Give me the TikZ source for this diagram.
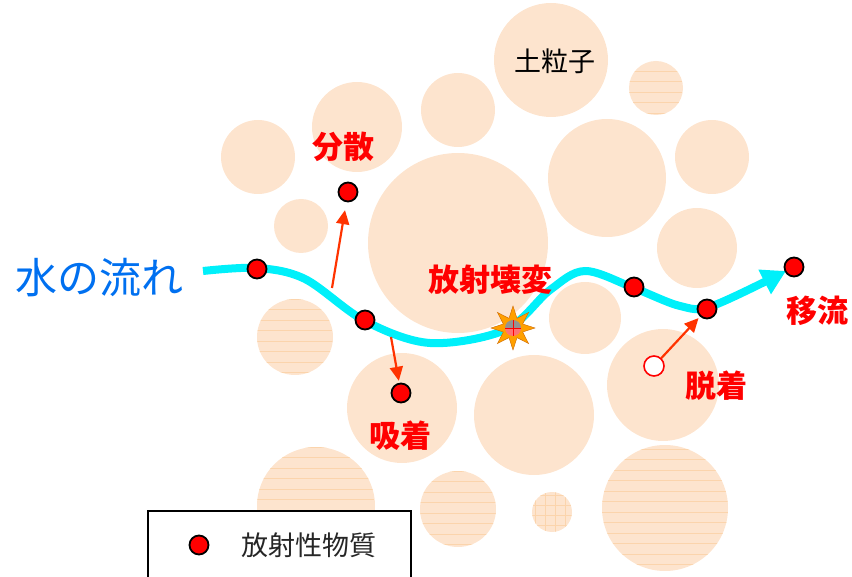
\documentclass[tikz,border=0pt]{standalone}
\usepackage{fontspec}
\usetikzlibrary{shapes.geometric,arrows.meta}
\newfontfamily\jp{Noto Sans CJK JP}
\definecolor{soilc}{RGB}{253,228,206}
\definecolor{hatchc}{RGB}{251,212,172}
\definecolor{flowc}{RGB}{0,240,250}
\definecolor{arrc}{RGB}{255,51,0}
\definecolor{bluetxt}{RGB}{0,112,240}
\definecolor{starc}{RGB}{255,160,0}
\tikzset{
  soil/.style={fill=soilc},
  hatchline/.style={draw=hatchc, line width=0.8pt},
  rdot/.style={circle, fill=red, draw=black, line width=1.8pt, minimum size=19pt, inner sep=0pt},
  odot/.style={circle, fill=white, draw=red, line width=1.6pt, minimum size=20pt, inner sep=0pt},
  rarrow/.style={draw=arrc, line width=2.2pt, -{Triangle[length=14pt,width=13pt]}},
  redlbl/.style={text=red, font=\jp\bfseries\fontsize{31}{33}\selectfont, inner sep=0pt},
  flow/.style={draw=flowc, line width=8pt, -{Triangle[length=24pt,width=26pt]}},
}
% plain soil particle
\newcommand\soilplain[3]{\fill[soil] (#1,#2) circle[radius=#3pt];}
% soil particle with horizontal hatching
\newcommand\soilhatched[3]{%
  \fill[soil] (#1,#2) circle[radius=#3pt];
  \begin{scope}
    \clip (#1,#2) circle[radius=#3pt];
    \foreach \k in {-7,...,7} \draw[hatchline] (#1-#3,#2+\k*10.5+4) -- (#1+#3,#2+\k*10.5+4);
  \end{scope}}
% soil particle with grid hatching
\newcommand\soilgrid[3]{%
  \fill[soil] (#1,#2) circle[radius=#3pt];
  \begin{scope}
    \clip (#1,#2) circle[radius=#3pt];
    \foreach \k in {-3,...,3} {
      \draw[hatchline] (#1-#3,#2+\k*10+3) -- (#1+#3,#2+\k*10+3);
      \draw[hatchline] (#1+\k*10+3,#2-#3) -- (#1+\k*10+3,#2+#3);
    }
  \end{scope}}
\begin{document}
\begin{tikzpicture}[x=1pt,y=-1pt]
\useasboundingbox (0,0) rectangle (852,577);
\begin{scope}
\clip (0,0) rectangle (852,577);
% soil particles
\soilplain{258}{157}{37}
\soilplain{357}{127}{45}
\soilplain{458}{110}{37}
\soilplain{551}{60}{57}
\soilhatched{656}{88}{27}
\soilplain{712}{157}{37}
\soilplain{607}{178}{59}
\soilplain{301}{226}{27}
\soilplain{458}{243}{90}
\soilplain{697}{248}{40}
\soilplain{585}{318}{36}
\soilhatched{295}{337}{38}
\soilplain{402}{408}{55}
\soilplain{534}{415}{60}
\soilplain{663}{385}{56}
\soilhatched{316}{506}{59}
\soilhatched{458}{509}{38}
\soilgrid{552}{512}{20}
\soilhatched{665}{508}{63}

% water flow path
\coordinate (f0) at (203,271);
\coordinate (f1) at (257,268);
\coordinate (f2) at (305,279);
\coordinate (f3) at (365,321);
\coordinate (f4) at (430,343);
\coordinate (f5) at (505,330);
\coordinate (f6) at (550,290);
\coordinate (f7) at (585,271);
\coordinate (f8) at (634,288);
\coordinate (f9) at (680,306);
\coordinate (f10) at (712,306);
\coordinate (f11) at (786,271);
\draw[flow] plot[smooth, tension=0.55] coordinates {(f0) (f1) (f2) (f3) (f4) (f5) (f6) (f7) (f8) (f9) (f10) (f11)};

% radioactive decay mark
\node[star, star points=8, star point ratio=2.1, fill=starc, draw=orange!80!black, line width=0.4pt, minimum size=44pt, inner sep=0pt] (decay) at (513,328) {};
\fill[gray!85] (521,328) arc[start angle=0, end angle=180, radius=8pt] -- cycle;
\fill[red!55] (505,328) arc[start angle=180, end angle=360, radius=8pt] -- cycle;
\draw[red, line width=0.8pt] (505,328) -- (521,328) (513,320) -- (513,336);

% radioactive substances
\node[rdot] (d1) at (257,269) {};
\node[rdot] (d2) at (348,192) {};
\node[rdot] (d3) at (365,320) {};
\node[rdot] (d4) at (401,393) {};
\node[rdot] (d5) at (634,287) {};
\node[rdot] (d6) at (707,309) {};
\node[rdot] (d7) at (794,267) {};
\node[odot] (o1) at (654,366) {};

% movements
\coordinate (a1) at (332,288);
\coordinate (a2) at (391,337);
\draw[rarrow, shorten >=8pt] (a1) -- (d2);
\draw[rarrow, shorten >=2pt] (a2) -- (d4);
\draw[rarrow, shorten >=2pt] (o1) -- (d6);

% labels
\node[redlbl] (l1) at (343,147) {分散};
\node[redlbl] (l2) at (400,436) {吸着};
\node[redlbl] (l3) at (490,280) {放射壊変};
\node[redlbl] (l4) at (716,386) {脱着};
\node[redlbl] (l5) at (817,311) {移流};
\node[text=bluetxt, font=\jp\fontsize{42}{44}\selectfont, inner sep=0pt] (water) at (100,278) {水の流れ};
\node[text=black, font=\jp\fontsize{27}{29}\selectfont, inner sep=0pt] (soiltxt) at (555,61) {土粒子};

% legend
\draw[line width=2.5pt, fill=white] (148,511) rectangle (411,610);
\node[rdot] (ld) at (199,545) {};
\node[text=black!85, font=\jp\fontsize{27}{29}\selectfont, inner sep=0pt, anchor=west] (lt) at (241,545) {放射性物質};
\end{scope}
\end{tikzpicture}
\end{document}
